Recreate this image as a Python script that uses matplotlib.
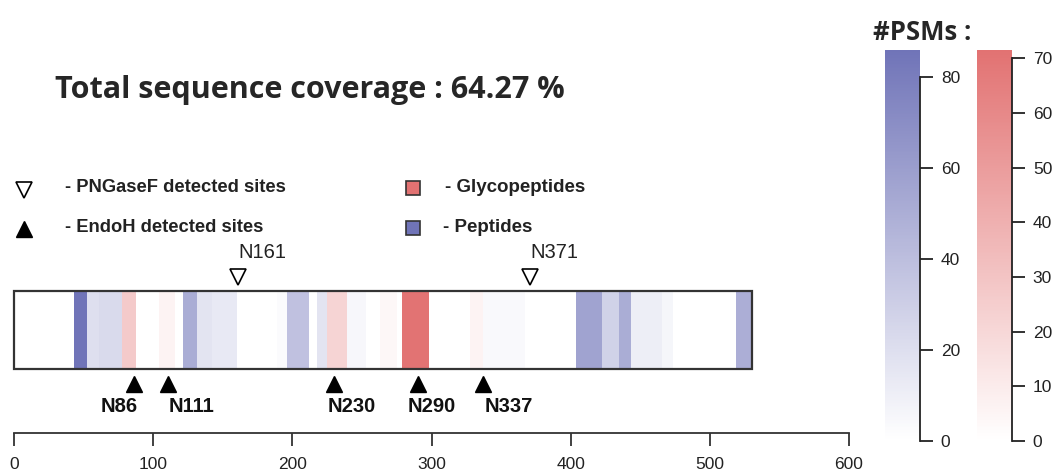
import matplotlib
matplotlib.use("Agg")
import matplotlib.pyplot as plt
from matplotlib.colors import LinearSegmentedColormap, Normalize
from matplotlib.cm import ScalarMappable
from matplotlib.patches import Rectangle

# ---------------- data ----------------
protein_length = 530
coverage_text = "Total sequence coverage : 64.27 %"

pep_start = [43, 52.5, 61, 121.5, 131.5, 142.3, 189, 196, 217.7, 239, 337, 403.8, 422.7, 434.7, 443.3, 465.4, 519]
pep_end   = [52.5, 61, 77.6, 131.5, 142.3, 160.2, 196, 212, 225, 253, 367, 422.7, 434.7, 443.3, 465.4, 473.7, 530]
pep_psm   = [86, 20, 23, 51, 17, 14, 3, 38, 17, 5, 4, 57, 28, 51, 11, 6, 50]

gly_start = [77.6, 104, 225, 263, 279, 327.6]
gly_end   = [87.7, 116, 239, 275, 298, 337]
gly_psm   = [27, 6, 22, 4, 71, 6]

pngase_sites = [161, 371]
endoh_sites = [86, 111, 230, 290, 337]

pep_max = 86
gly_max = 71.5
pep_ticks = [0, 20, 40, 60, 80]
gly_ticks = [0, 10, 20, 30, 40, 50, 60, 70]
axis_ticks = [0, 100, 200, 300, 400, 500, 600]

# ---------------- style ----------------
W, H = 1057, 475
blue = "#7074b8"
red = "#e27272"
cmap_b = LinearSegmentedColormap.from_list("b", ["#ffffff", blue])
cmap_r = LinearSegmentedColormap.from_list("r", ["#ffffff", red])
norm_b = Normalize(0, pep_max)
norm_r = Normalize(0, gly_max)
FONT = "Liberation Sans"
endoh_label_shift_px = [-14, 23, 18, 14, 26]   # label centre offset from marker (pixels)
pngase_label_shift_px = [24, 24]

fig = plt.figure(figsize=(W / 100, H / 100), dpi=100)

# main canvas: x in sequence units, y in pixel rows
x0_px, x600_px = 14, 849
ppu = (x600_px - x0_px) / 600.0
ax = fig.add_axes([0, 0, 1, 1])
ax.set_xlim(-x0_px / ppu, (W - x0_px) / ppu)
ax.set_ylim(H, 0)
ax.axis("off")

def px(dx):
    """pixel offset -> sequence units"""
    return dx / ppu

bar_top, bar_h = 291, 78

ax.bar(pep_start, bar_h, width=[e - s for s, e in zip(pep_start, pep_end)], bottom=bar_top,
       align="edge", color=[cmap_b(norm_b(v)) for v in pep_psm], linewidth=0, zorder=2)
ax.bar(gly_start, bar_h, width=[e - s for s, e in zip(gly_start, gly_end)], bottom=bar_top,
       align="edge", color=[cmap_r(norm_r(v)) for v in gly_psm], linewidth=0, zorder=2)
ax.add_patch(Rectangle((0, bar_top), protein_length, bar_h, fill=False,
                       edgecolor="#333333", linewidth=1.6, zorder=3))

# sites
ax.plot(endoh_sites, [384] * len(endoh_sites), linestyle="none", marker="^",
        markersize=12, color="black", zorder=4)
for s, d in zip(endoh_sites, endoh_label_shift_px):
    ax.text(s + px(d), 406, f"N{s}", ha="center", va="center", fontsize=14.5,
            fontweight="bold", family=FONT, color="#111111")
ax.plot(pngase_sites, [277] * len(pngase_sites), linestyle="none", marker="v",
        markersize=12, markerfacecolor="white", markeredgecolor="black",
        markeredgewidth=1.2, zorder=4)
for s, d in zip(pngase_sites, pngase_label_shift_px):
    ax.text(s + px(d), 252, f"N{s}", ha="center", va="center", fontsize=14.5,
            family=FONT, color="#222222")

# title
fig.text(55 / W, 1 - 90 / H, coverage_text, ha="left", va="center",
         fontsize=22, fontweight="bold", family="Open Sans", color="#262626")

# legend
def pxa(xp):
    return (xp - x0_px) / ppu

ax.plot(pxa(24), 190, marker="v", markersize=12, markerfacecolor="white",
        markeredgecolor="black", markeredgewidth=1.2, linestyle="none")
ax.plot(pxa(24), 229, marker="^", markersize=12, color="black", linestyle="none")
ax.text(pxa(65), 188, "- PNGaseF detected sites", ha="left", va="center",
        fontsize=13.2, fontweight="bold", family=FONT, color="#222222")
ax.text(pxa(65), 228, "- EndoH detected sites", ha="left", va="center",
        fontsize=13.2, fontweight="bold", family=FONT, color="#222222")
ax.plot(pxa(413), 188, marker="s", markersize=9.5, markerfacecolor=red,
        markeredgecolor="#333333", markeredgewidth=1.2, linestyle="none")
ax.plot(pxa(413), 228, marker="s", markersize=9.5, markerfacecolor=blue,
        markeredgecolor="#333333", markeredgewidth=1.2, linestyle="none")
ax.text(pxa(445), 187, "- Glycopeptides", ha="left", va="center",
        fontsize=13.5, fontweight="bold", family=FONT, color="#222222")
ax.text(pxa(443), 227, "- Peptides", ha="left", va="center",
        fontsize=13.5, fontweight="bold", family=FONT, color="#222222")

# bottom position axis
axb = fig.add_axes([x0_px / W, 1 - 433 / H, (x600_px - x0_px) / W, 1e-4])
axb.set_xlim(0, 600)
for sp in ["top", "left", "right"]:
    axb.spines[sp].set_visible(False)
axb.spines["bottom"].set_color("#333333")
axb.spines["bottom"].set_linewidth(1.3)
axb.set_yticks([])
axb.set_xticks(axis_ticks)
axb.tick_params(axis="x", direction="out", length=9, width=1.3, color="#333333",
                pad=8, labelsize=12.5, labelcolor="#222222")
for lab in axb.get_xticklabels():
    lab.set_family(FONT)

# colorbars
fig.text(873 / W, 1 - 33 / H, "#PSMs :", ha="left", va="center", fontsize=18.5,
         fontweight="bold", family="Open Sans", color="#262626")

def make_cbar(left_px, cmap, norm, ticks, top_tick):
    cax = fig.add_axes([left_px / W, 1 - 441 / H, 35 / W, (441 - 50) / H])
    cb = fig.colorbar(ScalarMappable(norm=norm, cmap=cmap), cax=cax)
    cb.outline.set_visible(False)
    cb.set_ticks(ticks)
    cax.tick_params(axis="y", direction="out", length=9, width=1.3, color="#222222",
                    pad=6, labelsize=12.5, labelcolor="#222222")
    for lab in cax.get_yticklabels():
        lab.set_family(FONT)
    cax.plot([1, 1], [0, top_tick], transform=cax.get_yaxis_transform(),
             color="#222222", linewidth=1.3, clip_on=False)
    return cb

make_cbar(885, cmap_b, norm_b, pep_ticks, 80)
make_cbar(977, cmap_r, norm_r, gly_ticks, 70)

fig.savefig("out.png", dpi=100)
